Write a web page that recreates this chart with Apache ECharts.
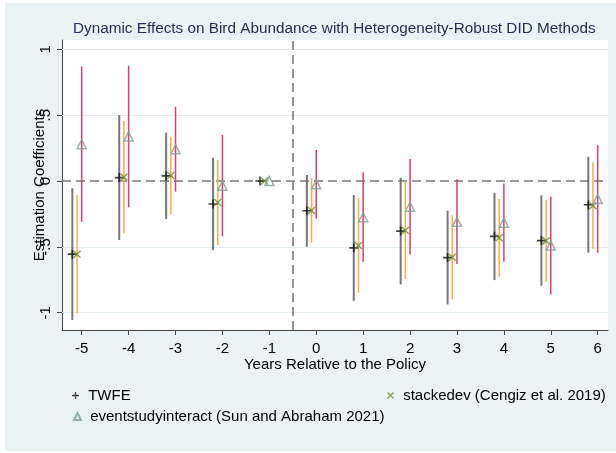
<!DOCTYPE html>
<html>
<head>
<meta charset="utf-8">
<script src="https://cdn.jsdelivr.net/npm/echarts@6/dist/echarts.min.js"></script>
<style>
  html, body { margin: 0; padding: 0; background: #ffffff; }
  #chart { width: 616px; height: 453px; }
</style>
</head>
<body>
<div id="chart"></div>
<script>
// Event-study estimates by year relative to the policy (reference year -1 is fixed at 0)
const years = [-5, -4, -3, -2, -1, 0, 1, 2, 3, 4, 5, 6];

// Two-way fixed effects
const twfeEst = [-0.555, 0.026, 0.039, -0.174, 0, -0.226, -0.507, -0.380, -0.581, -0.420, -0.452, -0.180];
const twfeLo  = [-1.055, -0.448, -0.289, -0.524, null, -0.499, -0.909, -0.785, -0.937, -0.752, -0.795, -0.544];
const twfeHi  = [-0.055, 0.500, 0.367, 0.177, null, 0.046, -0.106, 0.025, -0.225, -0.089, -0.109, 0.185];

// Stacked event study (Cengiz et al. 2019)
const stackEst = [-0.556, 0.030, 0.042, -0.163, 0, -0.224, -0.490, -0.375, -0.579, -0.431, -0.454, -0.187];
const stackLo  = [-1.005, -0.397, -0.253, -0.486, null, -0.468, -0.848, -0.744, -0.899, -0.726, -0.764, -0.516];
const stackHi  = [-0.106, 0.456, 0.337, 0.160, null, 0.020, -0.132, -0.005, -0.258, -0.137, -0.144, 0.142];

// Interaction-weighted estimator (Sun and Abraham 2021)
const esiEst = [0.280, 0.338, 0.242, -0.035, 0, -0.025, -0.274, -0.195, -0.309, -0.316, -0.490, -0.136];
const esiLo  = [-0.310, -0.200, -0.081, -0.420, null, -0.284, -0.613, -0.557, -0.630, -0.613, -0.860, -0.544];
const esiHi  = [0.870, 0.876, 0.565, 0.350, null, 0.235, 0.066, 0.167, 0.013, -0.018, -0.119, 0.273];

const yTicks = [-1, -0.5, 0, 0.5, 1];
const seriesNames = ['TWFE', 'stackedev (Cengiz et al. 2019)', 'eventstudyinteract (Sun and Abraham 2021)'];

const FONT = '"Liberation Sans", Arial, sans-serif';
const PLUS = 'path://M4.1,0H5.9V4.1H10V5.9H5.9V10H4.1V5.9H0V4.1H4.1Z';
const CROSS = 'path://M1.3,0L5,3.7L8.7,0L10,1.3L6.3,5L10,8.7L8.7,10L5,6.3L1.3,10L0,8.7L3.7,5L0,1.3Z';

function ciData(lo, hi, shift) {
  const out = [];
  years.forEach((y, i) => {
    if (lo[i] !== null && hi[i] !== null) out.push([y + shift, lo[i], hi[i]]);
  });
  return out;
}
function pointData(est, shift) {
  return years.map((y, i) => [y + shift, est[i]]);
}
function ciSeries(lo, hi, shift, color, width, extra) {
  return Object.assign({
    type: 'custom',
    silent: true,
    z: 2,
    data: ciData(lo, hi, shift),
    encode: { x: 0, y: [1, 2] },
    renderItem: function (params, api) {
      const x = api.value(0);
      const a = api.coord([x, api.value(1)]);
      const b = api.coord([x, api.value(2)]);
      return {
        type: 'line',
        shape: { x1: a[0], y1: a[1], x2: b[0], y2: b[1] },
        style: { stroke: color, lineWidth: width }
      };
    }
  }, extra || {});
}

const chart = echarts.init(document.getElementById('chart'), null, { renderer: 'canvas' });

const gridLines = yTicks.filter(v => v !== 0).map(v => ({ yAxis: v }));

chart.setOption({
  animation: false,
  backgroundColor: '#ffffff',
  graphic: [{
    type: 'rect', z: -10, silent: true,
    shape: { x: 5, y: 3, width: 611, height: 448 },
    style: { fill: '#eaf2f3' }
  }],
  title: {
    text: 'Dynamic Effects on Bird Abundance with Heterogeneity-Robust DID Methods',
    left: 73, top: 21, padding: 0,
    textStyle: { fontFamily: FONT, fontSize: 15.3, fontWeight: 'normal', color: '#1e2d52' }
  },
  grid: { left: 62, right: 8, top: 40, bottom: 123, show: true, backgroundColor: '#ffffff', borderWidth: 0 },
  xAxis: {
    type: 'value', min: -5.42, max: 6.22,
    name: 'Years Relative to the Policy', nameLocation: 'middle', nameGap: 27, nameMoveOverlap: false,
    nameTextStyle: { fontFamily: FONT, fontSize: 15, color: '#000' },
    axisLine: { show: true, onZero: false, lineStyle: { color: '#444', width: 1 } },
    axisTick: { show: true, length: 5, customValues: years, lineStyle: { color: '#444' } },
    axisLabel: { customValues: years, margin: 11, fontFamily: FONT, fontSize: 15, color: '#000' },
    splitLine: { show: false }
  },
  yAxis: {
    type: 'value', min: -1.131, max: 1.071,
    name: 'Estimation Coefficients', nameLocation: 'middle', nameGap: 15, nameRotate: 90, nameMoveOverlap: false,
    nameTextStyle: { fontFamily: FONT, fontSize: 15, color: '#000' },
    axisLine: { show: true, onZero: false, lineStyle: { color: '#444', width: 1 } },
    axisTick: { show: true, length: 5, customValues: yTicks, lineStyle: { color: '#444' } },
    axisLabel: {
      customValues: yTicks, rotate: 90, margin: 9,
      fontFamily: FONT, fontSize: 15, color: '#000',
      formatter: v => String(v).replace('0.', '.')
    },
    splitLine: { show: false }
  },
  legend: [
    { data: [seriesNames[0]], left: 72, top: 388 },
    { data: [seriesNames[1]], left: 387, top: 388 },
    { data: [seriesNames[2]], left: 73, top: 409 }
  ].map(l => Object.assign({
    orient: 'horizontal', padding: 0, itemWidth: 7, itemHeight: 7, selectedMode: false,
    formatter: ' {name}',
    textStyle: { fontFamily: FONT, fontSize: 15, color: '#000' }
  }, l)),
  series: [
    ciSeries(twfeLo, twfeHi, -0.2, 'rgba(95,95,95,0.85)', 2, {
      name: 'twfe-ci',
      markLine: {
        silent: true, symbol: 'none', label: { show: false }, z: 1,
        data: gridLines.map(d => Object.assign({ lineStyle: { color: '#e3ecee', width: 1.2, type: 'solid' } }, d))
          .concat([
            { yAxis: 0, lineStyle: { color: '#7a7a7a', width: 1.6, type: [9, 5] } },
            { xAxis: -0.5, lineStyle: { color: '#7a7a7a', width: 1.6, type: [9, 5] } }
          ])
      }
    }),
    ciSeries(stackLo, stackHi, -0.1, '#f5ad4c', 1.5, { name: 'stack-ci' }),
    ciSeries(esiLo, esiHi, 0, '#d93d69', 1.5, { name: 'esi-ci' }),
    {
      name: seriesNames[0], type: 'scatter', z: 5,
      data: pointData(twfeEst, -0.2),
      symbol: PLUS, symbolSize: 9,
      itemStyle: { color: '#111111' }
    },
    {
      name: seriesNames[1], type: 'scatter', z: 6,
      data: pointData(stackEst, -0.1),
      symbol: CROSS, symbolSize: 8,
      itemStyle: { color: '#6b8a2a' }
    },
    {
      name: seriesNames[2], type: 'scatter', z: 7,
      data: pointData(esiEst, 0),
      symbol: 'triangle', symbolSize: 9,
      itemStyle: { color: 'rgba(255,255,255,0)', borderColor: '#7f9f97', borderWidth: 1.5 }
    }
  ]
});
</script>
</body>
</html>
